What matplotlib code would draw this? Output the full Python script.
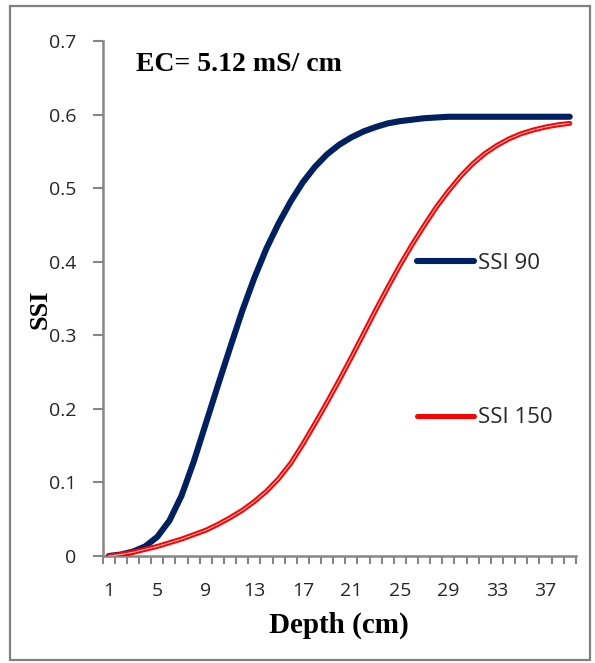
import numpy as np
import matplotlib
matplotlib.use('Agg')
import matplotlib.pyplot as plt
from matplotlib.lines import Line2D
from matplotlib.patches import Rectangle

# depth categories (cm)
depth = list(range(1, 40))

# SSI values
ssi90 = [0.0, 0.002, 0.006, 0.013, 0.026, 0.048, 0.082, 0.128, 0.18, 0.232,
         0.283, 0.333, 0.378, 0.418, 0.452, 0.482, 0.508, 0.529, 0.546, 0.559,
         0.569, 0.577, 0.583, 0.588, 0.591, 0.593, 0.595, 0.596, 0.597, 0.597,
         0.597, 0.597, 0.597, 0.597, 0.597, 0.597, 0.597, 0.597, 0.597]
ssi150 = [0.0, 0.002, 0.005, 0.009, 0.013, 0.018, 0.023, 0.029, 0.035, 0.043,
          0.052, 0.062, 0.074, 0.088, 0.105, 0.126, 0.152, 0.18, 0.209, 0.239,
          0.27, 0.302, 0.334, 0.365, 0.395, 0.423, 0.449, 0.474, 0.496, 0.516,
          0.533, 0.547, 0.558, 0.567, 0.574, 0.579, 0.583, 0.586, 0.588]

xlabels = [1, 5, 9, 13, 17, 21, 25, 29, 33, 37]
yticks = [0, 0.1, 0.2, 0.3, 0.4, 0.5, 0.6, 0.7]

navy = '#002060'
red = '#ff0000'
grey = '#868686'
txt = '#262626'

fig = plt.figure(figsize=(5.95, 6.63), dpi=100)
ax = fig.add_axes([0.1726, 0.1614, 0.7951, 0.7768])

ax.plot(depth, ssi90, color=navy, lw=4.4, solid_capstyle='round',
        solid_joinstyle='round', zorder=3)
ax.plot(depth, ssi150, color=red, lw=3.6, solid_capstyle='round',
        solid_joinstyle='round', zorder=4)
ax.plot(depth, ssi150, color='white', lw=0.7, alpha=0.8, zorder=5)

ax.set_xlim(0.5, 39.5)
ax.set_ylim(0, 0.7)

ax.set_xticks(xlabels)
ax.set_xticklabels([str(v) for v in xlabels])
ax.set_xticks(np.arange(0.5, 40, 1), minor=True)
ax.tick_params(axis='x', which='major', length=0, pad=19, labelsize=14,
               labelcolor=txt)
ax.tick_params(axis='x', which='minor', length=6, width=1.5, color=grey,
               direction='out')

ax.set_yticks(yticks)
ax.set_yticklabels(['0'] + ['%.1f' % v for v in yticks[1:]])
ax.tick_params(axis='y', length=7, width=1.5, color=grey, pad=12,
               labelsize=14, labelcolor=txt)

for s in ['top', 'right']:
    ax.spines[s].set_visible(False)
for s in ['left', 'bottom']:
    ax.spines[s].set_color(grey)
    ax.spines[s].set_linewidth(1.8)

ax.set_xlabel('Depth (cm)', fontfamily='Liberation Serif', fontweight='bold',
              fontsize=21, labelpad=8)
ax.text(-0.1325, 0.48, 'SSI', transform=ax.transAxes, rotation=90,
        fontfamily='Liberation Serif', fontweight='bold', fontsize=19,
        ha='center', va='center')
ax.text(0.07, 0.955, 'EC= 5.12 mS/ cm', transform=ax.transAxes,
        fontfamily='Liberation Serif', fontweight='bold', fontsize=20,
        ha='left', va='center')

handles = [Line2D([], [], color=navy, lw=4.4, solid_capstyle='round'),
           Line2D([], [], color=red, lw=3.6, solid_capstyle='round')]
leg = ax.legend(handles, ['SSI 90', 'SSI 150'], loc='center left',
                bbox_to_anchor=(0.665, 0.418), frameon=False,
                prop={'family': 'Open Sans', 'size': 16},
                handlelength=2.55, handletextpad=0.2, labelspacing=6.0,
                borderpad=0, borderaxespad=0)
for t in leg.get_texts():
    t.set_color(txt)

fig.patches.append(Rectangle((10 / 595, 3 / 663), 580 / 595, 654 / 663,
                             transform=fig.transFigure, fill=False,
                             edgecolor='#808080', lw=1.6))

for lab in ax.get_xticklabels() + ax.get_yticklabels():
    lab.set_fontfamily('Open Sans')

fig.savefig('out.png', dpi=100)
